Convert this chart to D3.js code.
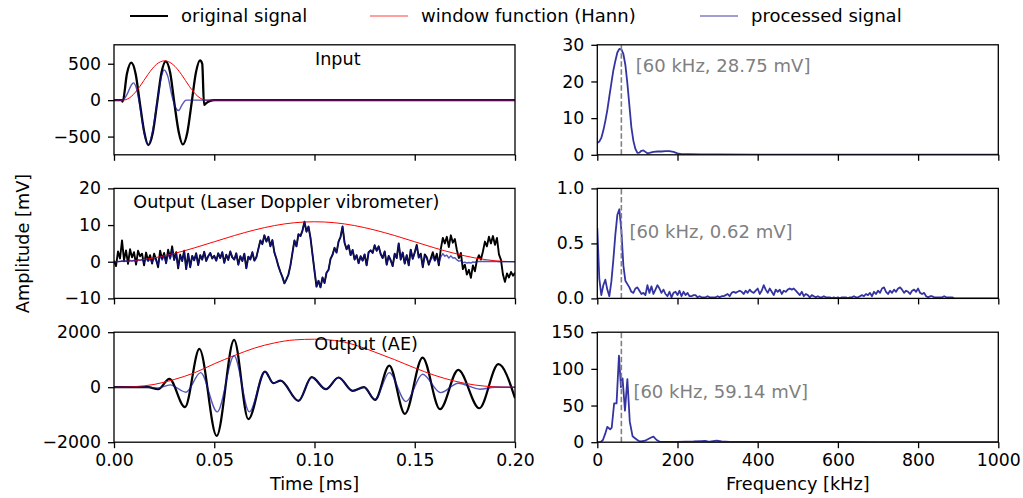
<!DOCTYPE html>
<html>
<head>
<meta charset="utf-8">
<script src="https://cdn.jsdelivr.net/npm/d3@7"></script>
<style>
  body { margin: 0; background: #fff; }
  svg text { font-family: "DejaVu Sans", sans-serif; fill: #000; }
  .axis text { font-size: 17.3px; font-family: "DejaVu Sans", sans-serif; }
  .axis line { stroke: #000; stroke-width: 1.3px; }
  .frame { fill: none; stroke: #000; stroke-width: 1.3px; }
</style>
</head>
<body>
<svg id="chart" width="1023" height="498"></svg>
<script>
'use strict';

// ---- data ----
const timeTicks = [0, 0.05, 0.10, 0.15, 0.20];
const freqTicks = [0, 200, 400, 600, 800, 1000];

// Input burst (time in ms, amplitude in mV)
const inputT = [0, 0.0040, 0.0043, 0.0065, 0.0086, 0.0108, 0.0129, 0.0151, 0.0171, 0.0194, 0.0215,
    0.0237, 0.0258, 0.0280, 0.0301, 0.0323, 0.0343, 0.0366, 0.0387, 0.0409, 0.0429, 0.0440,
    0.0449, 0.0460, 0.0480, 0.0500, 0.2000];
const inputOrig = [0, 0, -20, 370, 515, 360, -40, -440, -616, -440, -40,
    380, 533, 380, -40, -440, -608, -440, -40, 385, 546, 500,
    -65, -40, -10, 0, 0];
const inputProcT = [0, 0.0043, 0.0065, 0.0085, 0.0097, 0.0110, 0.0128, 0.0150, 0.0171, 0.0192,
    0.0215, 0.0237, 0.0250, 0.0268, 0.0290, 0.0305, 0.0322, 0.0340, 0.0360, 0.2000];
const inputProc = [0, 0, 80, 200, 238, 180, -60, -450, -616, -430,
    -30, 330, 415, 330, 50, -90, -142, -60, 0, 0];
const inputWinT = [0, 0.0045, 0.0086, 0.0128, 0.0170, 0.0211, 0.0253, 0.0294, 0.0336, 0.0377,
    0.0419, 0.0460, 0.2000];
const inputWin = [0, 0, 50, 185, 355, 490, 540, 490, 355, 185, 50, 0, 0];

// Laser Doppler vibrometer, sampled every 0.001 ms
const ldvOrig = [
    0.3, -1.2, 2.8, 0.9, 5.8, 0.4, 3.1, -0.6, 3.4, 1.2,
    2.6, -0.8, 3.0, 1.5, 2.2, -1.0, 2.5, 0.3, 1.8, -0.5,
    2.2, 0.6, -1.5, 3.0, 0.8, 2.4, -0.4, 3.3, 1.0, 4.2,
    0.5, 2.6, -1.8, 1.9, 0.2, 3.0, -2.0, 2.2, -1.5, 1.6,
    0.4, 2.3, -0.9, 1.8, 0.6, 2.7, 0.2, 1.5, 2.4, 0.9,
    1.6, 0.3, 2.3, 1.0, 2.6, -0.3, 1.9, 0.5, 2.8, 1.2,
    0.6, 2.3, -0.8, 1.5, 0.2, 2.2, -1.8, 1.4, 0.6, 2.6,
    0.3, 1.2, 3.5, 5.8, 4.8, 7.2, 5.5, 6.8, 4.2, 5.9,
    2.5, 0.8, -1.2, -2.8, -4.2, -5.9, -4.8, -3.5, -1.0, 2.4,
    5.8, 4.2, 7.5, 7.0, 8.5, 10.9, 8.2, 9.6, 6.5, 2.0,
    -2.5, -6.8, -5.2, -7.0, -4.3, -5.8, -3.0, -2.2, 0.8, 1.9,
    3.8, 2.5, 5.5, 6.8, 9.6, 5.2, 3.4, 4.5, 1.8, 3.2,
    0.6, 1.8, -0.4, 1.5, 0.3, 2.0, -1.0, 2.6, 3.1, 2.4,
    4.5, 3.0, 4.2, 2.1, 1.0, 2.8, -0.8, 1.6, 0.4, -1.2,
    2.2, 1.0, 5.0, 0.6, 2.5, -0.5, 1.8, -1.0, 3.3, 0.8,
    2.6, 4.6, 1.2, 2.2, -1.5, 2.0, 1.2, -0.8, 0.9, 2.6,
    0.4, 2.2, -1.0, 3.5, 6.5, 5.0, 6.8, 4.0, 7.2, 5.2,
    6.2, 3.2, 1.0, 2.4, -2.0, -0.8, -3.5, -2.2, -4.4, -1.0,
    -2.6, 0.4, 1.8, 0.6, 2.8, 5.5, 4.2, 6.8, 5.0, 7.0,
    4.6, 6.5, 2.0, 0.5, -3.5, -5.5, -3.2, -4.3, -2.8, -3.8, -3.0
];
const ldvProc = [
    0, 0, 0.1, 0.05, 0.3, 0.05, 0.3, -0.1, 0.4, 0.15,
    0.4, -0.15, 0.6, 0.35, 0.6, -0.3, 0.8, 0.1, 0.7, -0.2,
    1.0, 0.3, -0.8, 1.6, 0.45, 1.5, -0.3, 2.2, 0.7, 3.0,
    0.4, 2.0, -1.5, 1.6, 0.2, 2.7, -1.8, 2.0, -1.4, 1.5,
    0.4, 2.3, -0.9, 1.8, 0.6, 2.7, 0.2, 1.5, 2.4, 0.9,
    1.6, 0.3, 2.3, 1.0, 2.6, -0.3, 1.9, 0.5, 2.8, 1.2,
    0.6, 2.3, -0.8, 1.5, 0.2, 2.2, -1.8, 1.4, 0.6, 2.6,
    0.3, 1.2, 3.5, 5.8, 4.8, 7.2, 5.5, 6.8, 4.2, 5.9,
    2.5, 0.8, -1.2, -2.8, -4.2, -5.9, -4.8, -3.5, -1.0, 2.4,
    5.8, 4.2, 7.5, 7.0, 8.5, 10.9, 8.2, 9.6, 6.5, 2.0,
    -2.5, -6.8, -5.2, -7.0, -4.3, -5.8, -3.0, -2.2, 0.8, 1.9,
    3.8, 2.5, 5.5, 6.8, 9.6, 5.2, 3.4, 4.5, 1.8, 3.2,
    0.6, 1.8, -0.4, 1.5, 0.3, 2.0, -1.0, 2.6, 3.1, 2.4,
    4.5, 3.0, 4.2, 2.1, 1.0, 2.8, -0.8, 1.6, 0.4, -1.2,
    2.2, 1.0, 5.0, 0.6, 2.5, -0.5, 1.8, -1.0, 3.3, 0.8,
    2.4, 4.2, 1.0, 1.8, -1.2, 1.5, 0.8, -0.5, 0.5, 1.4,
    0.2, 1.0, -0.4, 1.3, 2.2, 1.5, 1.8, 1.0, 1.6, 1.0,
    1.1, 0.5, 0.15, 0.3, -0.25, -0.1, -0.35, -0.2, -0.35, -0.07,
    -0.15, 0.02, 0.08, 0.02, 0.08, 0.12, 0.07, 0.09, 0.05, 0.05,
    0.03, 0.03, 0.01, 0, -0.01, -0.01, 0, 0, 0, 0, 0
];
const ldvWinT = [0, 0.01, 0.02, 0.03, 0.04, 0.05, 0.06, 0.07, 0.08, 0.09, 0.10,
    0.11, 0.12, 0.13, 0.14, 0.15, 0.16, 0.17, 0.18, 0.19, 0.20];
const ldvWin = [0, 0.27, 1.04, 2.25, 3.76, 5.45, 7.14, 8.65, 9.86, 10.64, 10.9,
    10.64, 9.86, 8.65, 7.14, 5.45, 3.76, 2.25, 1.04, 0.27, 0];

// Acoustic emission (turning points of the waveform)
const aeT = [0, 0.017, 0.022, 0.0276, 0.0354, 0.0426, 0.0512, 0.0599, 0.067, 0.0753, 0.0795,
    0.0831, 0.092, 0.0986, 0.1057, 0.112, 0.119, 0.1247, 0.1302, 0.1373, 0.1451, 0.1539,
    0.1626, 0.1717, 0.1822, 0.1917, 0.2];
const aeOrig = [0, 0, -75, 302, -727, 1393, -1771, 1720, -1164, 568, 145,
    240, -498, 364, -73, 352, -133, 0, -461, 786, -970, 1077,
    -800, 629, -766, 836, -400];
const aeProcT = [0, 0.017, 0.022, 0.028, 0.0359, 0.0432, 0.0515, 0.0599, 0.0675, 0.0753, 0.0795,
    0.0831, 0.092, 0.0986, 0.1057, 0.112, 0.119, 0.1247, 0.1302, 0.1373, 0.1456, 0.1539,
    0.1629, 0.1717, 0.1825, 0.19, 0.2];
const aeProc = [0, 0, -30, 84, -182, 531, -898, 1138, -898, 560, 145,
    240, -498, 364, -73, 352, -133, 0, -440, 531, -523, 473,
    -196, 145, -73, 0, 0];
const aeWinT = ldvWinT;
const aeWin = [0, 20, 100, 280, 520, 850, 1150, 1420, 1610, 1720, 1745,
    1700, 1540, 1280, 1000, 700, 430, 220, 80, 15, 0];

// Spectra (kHz, mV)
const inputSpecF = [0, 5, 10, 15, 20, 25, 30, 35, 40, 45, 50, 55, 60, 65, 70, 75, 80, 85, 90, 95,
    100, 105, 110, 115, 120, 125, 130, 140, 150, 160, 170, 180, 190, 200, 210, 230, 260,
    300, 400, 500, 700, 1000];
const inputSpec = [3.2, 3.6, 4.6, 6.6, 9.2, 12.2, 15.9, 19.5, 23.0, 25.6, 27.9, 28.9, 28.75, 27.5, 24.5, 19.5, 13.5, 7.5, 3.8, 1.6,
    0.5, 0.6, 1.1, 1.2, 0.8, 0.4, 0.5, 0.8, 0.9, 0.9, 1.0, 1.0, 0.8, 0.4, 0.2, 0.15, 0.1,
    0.1, 0.05, 0.05, 0.03, 0.02];

// LDV spectrum, one value every 5 kHz from 0 to 1000 kHz
const ldvSpec = [
    0.64, 0.18, 0.03, 0.12, 0.17, 0.08, 0.02, 0.15, 0.35, 0.58,
    0.76, 0.81, 0.62, 0.30, 0.16, 0.13, 0.10, 0.06, 0.05, 0.09,
    0.10, 0.07, 0.04, 0.05, 0.03, 0.12, 0.05, 0.11, 0.04, 0.08,
    0.12, 0.09, 0.05, 0.08, 0.04, 0.02, 0.06, 0.01, 0.05, 0.06,
    0.03, 0.07, 0.02, 0.06, 0.03, 0.05, 0.02, 0.02, 0.03, 0.03,
    0.01, 0.02, 0.01, 0.01, 0.01, 0.02, 0.01, 0.01, 0.01, 0.01,
    0.02, 0.01, 0.02, 0.02, 0.03, 0.04, 0.02, 0.05, 0.06, 0.05,
    0.06, 0.07, 0.06, 0.04, 0.07, 0.05, 0.08, 0.06, 0.05, 0.07,
    0.09, 0.04, 0.07, 0.12, 0.08, 0.05, 0.09, 0.06, 0.03, 0.08,
    0.06, 0.08, 0.04, 0.07, 0.06, 0.08, 0.09, 0.08, 0.09, 0.07,
    0.05, 0.03, 0.06, 0.02, 0.04, 0.03, 0.01, 0.03, 0.02, 0.01,
    0.02, 0.01, 0.01, 0.02, 0.01, 0.01, 0.01, 0.00, 0.01, 0.00,
    0.01, 0.00, 0.01, 0.01, 0.01, 0.00, 0.01, 0.01, 0.02, 0.01,
    0.01, 0.02, 0.03, 0.02, 0.04, 0.03, 0.05, 0.02, 0.06, 0.04,
    0.07, 0.05, 0.09, 0.10, 0.06, 0.04, 0.07, 0.05, 0.08, 0.06,
    0.09, 0.10, 0.08, 0.05, 0.07, 0.06, 0.04, 0.07, 0.08, 0.06,
    0.09, 0.05, 0.04, 0.05, 0.02, 0.01, 0.02, 0.02, 0.01, 0.01,
    0.01, 0.01, 0.01, 0.02, 0.01, 0.01, 0.01, 0.01, 0.00, 0.00,
    0, 0, 0, 0, 0, 0, 0, 0, 0, 0,
    0, 0, 0, 0, 0, 0, 0, 0, 0, 0, 0
];

const aeSpecF = [0, 8, 14, 20, 25, 32, 36, 42, 48, 54, 59, 63, 69, 75, 81, 88, 94, 100, 106, 113,
    119, 126, 133, 140, 148, 156, 165, 180, 200, 220, 240, 260, 269, 280, 298, 310, 330,
    400, 500, 600, 700, 800, 1000];
const aeSpec = [0, 0, 3, 12, 21, 17.6, 20, 53, 53, 118, 75, 87, 43, 86, 28, 8, 5.5, 3, 1, 1.5,
    2, 4, 6, 7.7, 3, 0.5, 0.3, 0.3, 0.5, 0.8, 1, 1.5, 1.8, 0.6, 2, 1.2, 0.4,
    0.4, 0.3, 0.3, 0.2, 0.1, 0];

const peakLabels = ['[60 kHz, 28.75 mV]', '[60 kHz, 0.62 mV]', '[60 kHz, 59.14 mV]'];
const peakLabelF = [96, 80, 90];
const peakLabelV = [22.7, 0.55, 60.4];
const peakFreq = 60;

// ---- layout ----
const leftX = [114, 515],
    rightX = [597.3, 998.3],
    rowTop = [44.8, 188.4, 332.2],
    rowH = 110;

const colors = {
    orig: '#000',
    win: '#ff0000',
    proc: 'rgba(20,20,160,0.72)',
    spec: 'rgba(0,0,139,0.8)'
};

const svg = d3.select('#chart');
const pair = (xs, ys) => xs.map((x, i) => [x, ys[i]]);

function drawAxes(g, x, y, opts) {
    const xAxis = d3.axisBottom(x)
        .tickValues(opts.xTicks)
        .tickSize(6)
        .tickPadding(6)
        .tickFormat(opts.showX ? opts.xFmt : () => '');
    g.append('g')
        .attr('class', 'axis')
        .attr('transform', `translate(0,${y.range()[0]})`)
        .call(xAxis);

    const yAxis = d3.axisLeft(y)
        .tickValues(opts.yTicks)
        .tickSize(6)
        .tickPadding(7)
        .tickFormat(opts.yFmt);
    g.append('g')
        .attr('class', 'axis')
        .attr('transform', `translate(${x.range()[0]},0)`)
        .call(yAxis);

    g.selectAll('.axis').attr('font-size', null).attr('font-family', null);
    g.selectAll('.axis .domain').remove();
}

function addClip(id, x, y) {
    svg.append('clipPath').attr('id', id)
        .append('rect')
        .attr('x', x.range()[0]).attr('y', y.range()[1])
        .attr('width', x.range()[1] - x.range()[0])
        .attr('height', y.range()[0] - y.range()[1]);
}

function drawLine(g, x, y, pts, color, width, curve) {
    g.append('path')
        .datum(pts)
        .attr('fill', 'none')
        .attr('stroke', color)
        .attr('stroke-width', width)
        .attr('stroke-linejoin', 'round')
        .attr('d', d3.line().x(d => x(d[0])).y(d => y(d[1])).curve(curve || d3.curveLinear));
}

function frame(g, x, y) {
    g.append('rect').attr('class', 'frame')
        .attr('x', x.range()[0]).attr('y', y.range()[1])
        .attr('width', x.range()[1] - x.range()[0])
        .attr('height', y.range()[0] - y.range()[1]);
}

/* * * * * * * * TIME DOMAIN PANELS * * * * * * * */
const timePanels = [
    {
        domain: [-750, 760], ticks: [-500, 0, 500], fmt: d3.format('d'),
        orig: pair(inputT, inputOrig), origCurve: d3.curveMonotoneX, origWidth: 2.3,
        win: pair(inputWinT, inputWin),
        proc: pair(inputProcT, inputProc), procCurve: d3.curveMonotoneX,
        title: 'Input', titleX: 315, titleY: 64.5
    },
    {
        domain: [-10, 20], ticks: [-10, 0, 10, 20], fmt: d3.format('d'),
        orig: pair(d3.range(ldvOrig.length).map(i => i / 1000), ldvOrig), origCurve: d3.curveLinear, origWidth: 1.9,
        win: pair(ldvWinT, ldvWin),
        proc: pair(d3.range(ldvProc.length).map(i => i / 1000), ldvProc), procCurve: d3.curveLinear,
        title: 'Output (Laser Doppler vibrometer)', titleX: 133.3, titleY: 208
    },
    {
        domain: [-2000, 2000], ticks: [-2000, 0, 2000], fmt: d3.format('d'),
        orig: pair(aeT, aeOrig), origCurve: d3.curveMonotoneX, origWidth: 2.2,
        win: pair(aeWinT, aeWin),
        proc: pair(aeProcT, aeProc), procCurve: d3.curveMonotoneX,
        title: 'Output (AE)', titleX: 314.3, titleY: 349.5
    }
];

timePanels.forEach((p, i) => {
    const x = d3.scaleLinear([0, 0.2], leftX);
    const y = d3.scaleLinear(p.domain, [rowTop[i] + rowH, rowTop[i]]);
    const g = svg.append('g');
    const clipId = 'clip-time-' + i;
    addClip(clipId, x, y);

    const lines = g.append('g').attr('clip-path', `url(#${clipId})`);
    drawLine(lines, x, y, p.orig, colors.orig, p.origWidth, p.origCurve);
    drawLine(lines, x, y, p.win, colors.win, 1, d3.curveMonotoneX);
    drawLine(lines, x, y, p.proc, colors.proc, 1.4, p.procCurve);

    g.append('text')
        .attr('x', p.titleX).attr('y', p.titleY)
        .attr('font-size', 17.6)
        .text(p.title);

    drawAxes(g, x, y, {
        xTicks: timeTicks, xFmt: d3.format('.2f'), showX: i === 2,
        yTicks: p.ticks, yFmt: p.fmt
    });
    frame(g, x, y);
});

/* * * * * * * * SPECTRUM PANELS * * * * * * * */
const specPanels = [
    { domain: [0, 30], ticks: [0, 10, 20, 30], fmt: d3.format('d'), data: pair(inputSpecF, inputSpec) },
    { domain: [0, 1], ticks: [0, 0.5, 1], fmt: d3.format('.1f'),
        data: pair(d3.range(ldvSpec.length).map(i => i * 5), ldvSpec) },
    { domain: [0, 150], ticks: [0, 50, 100, 150], fmt: d3.format('d'), data: pair(aeSpecF, aeSpec) }
];

specPanels.forEach((p, i) => {
    const x = d3.scaleLinear([0, 1000], rightX);
    const y = d3.scaleLinear(p.domain, [rowTop[i] + rowH, rowTop[i]]);
    const g = svg.append('g');
    const clipId = 'clip-spec-' + i;
    addClip(clipId, x, y);

    const lines = g.append('g').attr('clip-path', `url(#${clipId})`);
    drawLine(lines, x, y, p.data, colors.spec, 1.8);

    // dashed marker at the excitation frequency
    lines.append('line')
        .attr('x1', x(peakFreq)).attr('x2', x(peakFreq))
        .attr('y1', y.range()[0]).attr('y2', y.range()[1])
        .attr('stroke', '#808080')
        .attr('stroke-width', 1.6)
        .attr('stroke-dasharray', '5.5,2.5');

    g.append('text')
        .attr('x', x(peakLabelF[i])).attr('y', y(peakLabelV[i]))
        .attr('font-size', 18)
        .style('fill', '#808080')
        .text(peakLabels[i]);

    drawAxes(g, x, y, {
        xTicks: freqTicks, xFmt: d3.format('d'), showX: i === 2,
        yTicks: p.ticks, yFmt: p.fmt
    });
    frame(g, x, y);
});

/* * * * * * * * LABELS & LEGEND * * * * * * * */
svg.append('text')
    .attr('x', d3.mean(leftX)).attr('y', 489.5)
    .attr('text-anchor', 'middle').attr('font-size', 17.7)
    .text('Time [ms]');

svg.append('text')
    .attr('x', d3.mean(rightX)).attr('y', 489.5)
    .attr('text-anchor', 'middle').attr('font-size', 17.7)
    .text('Frequency [kHz]');

svg.append('text')
    .attr('transform', `translate(28.5,${(rowTop[0] + rowTop[2] + rowH) / 2}) rotate(-90)`)
    .attr('text-anchor', 'middle').attr('font-size', 17.7)
    .text('Amplitude [mV]');

const legendItems = [
    { label: 'original signal', color: '#000', width: 2.2, x: 130 },
    { label: 'window function (Hann)', color: 'rgba(255,0,0,0.75)', width: 1.2, x: 370 },
    { label: 'processed signal', color: 'rgba(0,0,139,0.5)', width: 1.5, x: 700 }
];
const legend = svg.append('g');
legendItems.forEach(item => {
    legend.append('line')
        .attr('x1', item.x).attr('x2', item.x + 38)
        .attr('y1', 16).attr('y2', 16)
        .attr('stroke', item.color)
        .attr('stroke-width', item.width);
    legend.append('text')
        .attr('x', item.x + 51).attr('y', 22)
        .attr('font-size', 18)
        .text(item.label);
});
</script>
</body>
</html>
